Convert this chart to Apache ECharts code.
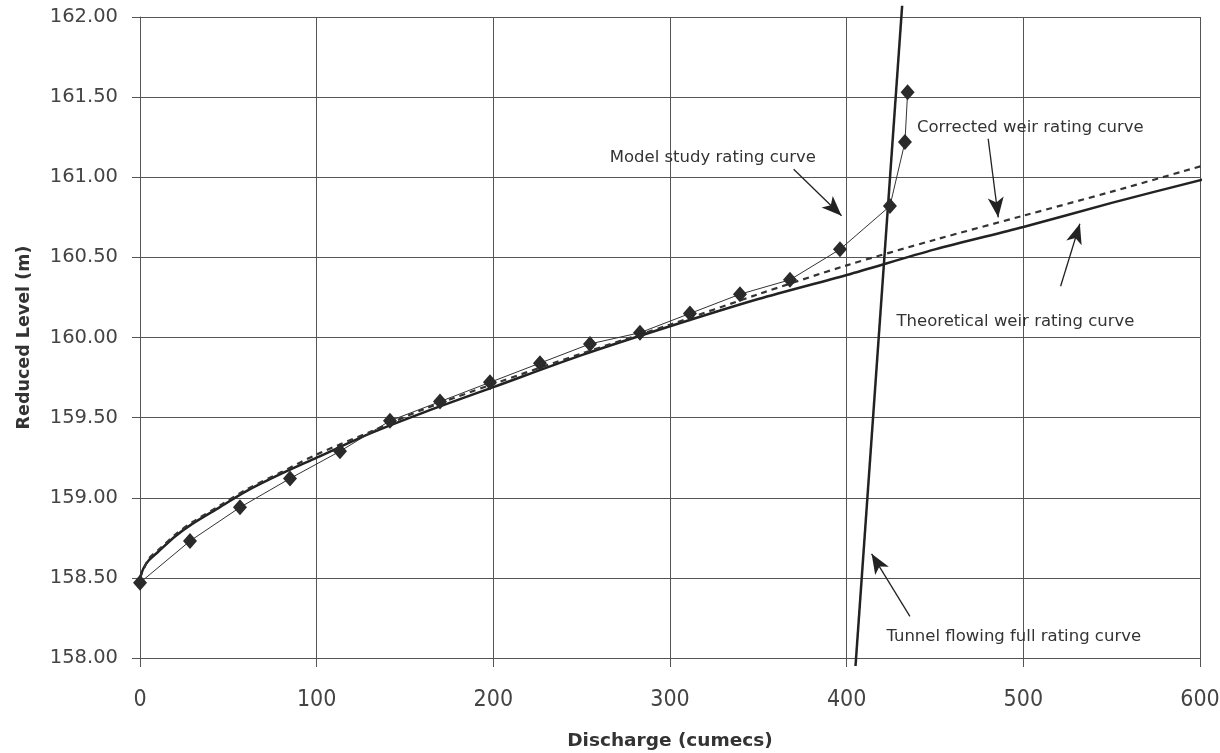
<!DOCTYPE html>
<html>
<head>
<meta charset="utf-8">
<script src="https://cdn.jsdelivr.net/npm/echarts@6/dist/echarts.min.js"></script>
<style>
  html, body { margin: 0; padding: 0; background: #fff; }
  #main { width: 1220px; height: 753px; }
</style>
</head>
<body>
<div id="main"></div>
<script>
// model study points (discharge, level)
var modelQ = [0, 28.3, 56.6, 84.9, 113.2, 141.5, 169.8, 198.1, 226.4, 254.7, 283, 311.3, 339.6, 367.9, 396.2, 424.5, 433, 434.5];
var modelH = [158.47, 158.73, 158.94, 159.12, 159.29, 159.48, 159.60, 159.72, 159.84, 159.96, 160.03, 160.15, 160.27, 160.36, 160.55, 160.82, 161.22, 161.53];

// theoretical weir rating curve
var theoQ = [0, 2, 5, 10, 20, 30, 45, 60, 80, 100, 130, 160, 200, 250, 300, 350, 400, 450, 500, 550, 603];
var theoH = [158.50, 158.56, 158.61, 158.66, 158.76, 158.84, 158.94, 159.04, 159.15, 159.25, 159.40, 159.53, 159.69, 159.89, 160.07, 160.24, 160.39, 160.55, 160.69, 160.84, 160.99];

// corrected weir rating curve
var corrQ = [0, 5, 10, 20, 30, 45, 60, 80, 100, 130, 160, 200, 250, 300, 350, 400, 450, 500, 550, 604];
var corrH = [158.50, 158.62, 158.67, 158.77, 158.85, 158.95, 159.05, 159.16, 159.27, 159.41, 159.55, 159.71, 159.90, 160.08, 160.27, 160.45, 160.61, 160.76, 160.91, 161.08];

// tunnel flowing full rating curve
var tunnelQ = [405.0, 431.4];
var tunnelH = [157.95, 162.07];

// annotation labels: text, anchor (left edge, middle) in data units
var noteText = ['Model study rating curve', 'Corrected weir rating curve', 'Theoretical weir rating curve', 'Tunnel flowing full rating curve'];
var noteAt = [[265.6, 161.12], [439.5, 161.31], [427.9, 160.10], [422.2, 158.13]];
// arrows: from -> to
var arrowFrom = [[370.0, 161.05], [480.1, 161.24], [521.1, 160.32], [435.8, 158.26]];
var arrowTo = [[397.1, 160.76], [485.8, 160.75], [532.0, 160.71], [414.1, 158.65]];

var xTicks = [0, 100, 200, 300, 400, 500, 600];

function pairs(a, b) {
  return a.map(function (v, i) { return [v, b[i]]; });
}

var chartDom = document.getElementById('main');
var myChart = echarts.init(chartDom);
var option;

var ink = '#222';
var gridCol = '#555';

option = {
  backgroundColor: '#fff',
  animation: false,
  grid: { left: 140, right: 20, top: 17, bottom: 95, containLabel: false, outerBoundsMode: 'none' },
  xAxis: {
    type: 'value',
    min: xTicks[0],
    max: xTicks[xTicks.length - 1],
    interval: 100,
    name: 'Discharge (cumecs)',
    nameLocation: 'middle',
    nameGap: 74,
    nameTextStyle: { fontFamily: 'DejaVu Sans', fontWeight: 'bold', fontSize: 18.5, color: '#333' },
    axisLine: { show: true, lineStyle: { color: gridCol, width: 1 } },
    axisTick: { show: true, length: 9, lineStyle: { color: gridCol } },
    axisLabel: {
      margin: 31,
      fontFamily: '"Liberation Sans Narrow", "DejaVu Sans Condensed", sans-serif',
      fontSize: 23, color: '#444'
    },
    splitLine: { show: true, lineStyle: { color: gridCol, width: 1 } }
  },
  yAxis: {
    type: 'value',
    min: 158,
    max: 162,
    interval: 0.5,
    name: 'Reduced Level (m)',
    nameLocation: 'middle',
    nameGap: 107,
    nameTextStyle: { fontFamily: 'DejaVu Sans', fontWeight: 'bold', fontSize: 17.5, color: '#333' },
    axisLine: { show: true, lineStyle: { color: gridCol, width: 1 } },
    axisTick: { show: true, length: 8, lineStyle: { color: gridCol } },
    axisLabel: {
      margin: 22, fontFamily: 'DejaVu Sans', fontSize: 19.5, color: '#444',
      formatter: function (v) { return v.toFixed(2); }
    },
    splitLine: { show: true, lineStyle: { color: gridCol, width: 1 } }
  },
  series: [
    {
      name: 'Theoretical weir rating curve',
      type: 'line',
      data: pairs(theoQ, theoH),
      smooth: 0.3,
      showSymbol: false,
      clip: false,
      lineStyle: { color: ink, width: 2.5 },
      z: 3
    },
    {
      name: 'Corrected weir rating curve',
      type: 'line',
      data: pairs(corrQ, corrH),
      smooth: 0.3,
      showSymbol: false,
      clip: false,
      lineStyle: { color: '#333', width: 2.2, type: [6, 5] },
      z: 3
    },
    {
      name: 'Tunnel flowing full rating curve',
      type: 'line',
      data: pairs(tunnelQ, tunnelH),
      showSymbol: false,
      clip: false,
      lineStyle: { color: ink, width: 2.5 },
      z: 3
    },
    {
      name: 'Model study rating curve',
      type: 'line',
      data: pairs(modelQ, modelH),
      symbol: 'diamond',
      symbolSize: [14, 16],
      clip: false,
      itemStyle: { color: '#2a2a2a' },
      lineStyle: { color: '#333', width: 1 },
      z: 4,
      markLine: {
        silent: true,
        symbol: ['none', 'arrow'],
        symbolSize: [12, 20],
        label: { show: false },
        lineStyle: { color: ink, width: 1.3, type: 'solid' },
        data: arrowFrom.map(function (f, i) {
          return [{ coord: f }, { coord: arrowTo[i] }];
        })
      },
      markPoint: {
        silent: true,
        symbol: 'rect',
        symbolSize: 1,
        itemStyle: { color: 'rgba(0,0,0,0)' },
        label: {
          show: true,
          position: 'right',
          distance: 0,
          fontFamily: 'DejaVu Sans',
          fontSize: 16.5,
          color: '#333',
          formatter: function (p) { return p.name; }
        },
        data: noteText.map(function (t, i) {
          return { name: t, coord: noteAt[i] };
        })
      }
    }
  ]
};

option && myChart.setOption(option);
</script>
</body>
</html>
